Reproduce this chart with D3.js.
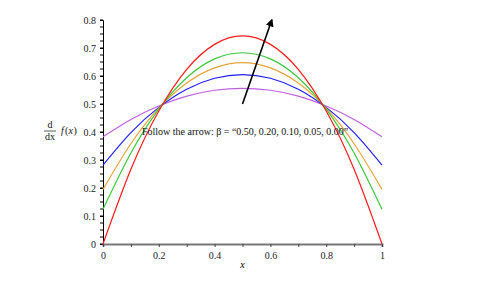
<!DOCTYPE html>
<html>
<head>
<meta charset="utf-8">
<script src="https://cdn.jsdelivr.net/npm/d3@7"></script>
<style>
  body { margin: 0; background: #fff; }
  svg { font-family: "Liberation Serif", "DejaVu Serif", serif; }
</style>
</head>
<body>
<script>
// sample points (curves are symmetric about x = 0.5)
var xs = [0, 0.1, 0.2, 0.3, 0.4, 0.5, 0.6, 0.7, 0.8, 0.9, 1];
var redY    = [0, 0.267, 0.475, 0.624, 0.713, 0.743, 0.713, 0.624, 0.475, 0.267, 0];
var greenY  = [0.124, 0.325, 0.482, 0.594, 0.661, 0.683, 0.661, 0.594, 0.482, 0.325, 0.124];
var orangeY = [0.195, 0.358, 0.485, 0.575, 0.629, 0.648, 0.629, 0.575, 0.485, 0.358, 0.195];
var blueY   = [0.282, 0.398, 0.488, 0.553, 0.592, 0.605, 0.592, 0.553, 0.488, 0.398, 0.282];
var purpleY = [0.383, 0.445, 0.493, 0.528, 0.549, 0.556, 0.549, 0.528, 0.493, 0.445, 0.383];
var curveColors = ["#c060e0", "#1e1eff", "#e6a33a", "#3cc83c", "#ff1a1a"];
var xTicks = [0, 0.1, 0.2, 0.3, 0.4, 0.5, 0.6, 0.7, 0.8, 0.9, 1];
var yTicks = [0, 0.1, 0.2, 0.3, 0.4, 0.5, 0.6, 0.7, 0.8];
var arrowFrom = [0.5, 0.5], arrowTo = [0.605, 0.8];
var note = "Follow the arrow: \u03b2 = \u201c0.50, 0.20, 0.10, 0.05, 0.00\u201d";

var W = 484, H = 281;
var svg = d3.select("body").append("svg").attr("width", W).attr("height", H);

var x = d3.scaleLinear().domain([0, 1]).range([103, 382]);
var y = d3.scaleLinear().domain([0, 0.8]).range([244, 20]);

// minor y ticks
var yMinor = d3.range(0, 0.8001, 0.025);
svg.append("g").selectAll("line").data(yMinor).enter().append("line")
  .attr("x1", x(0) - 3).attr("x2", x(0))
  .attr("y1", function(d){ return y(d); }).attr("y2", function(d){ return y(d); })
  .attr("stroke", "#000").attr("stroke-width", 1);

var yAxis = svg.append("g").attr("transform", "translate(" + x(0) + ",0)")
  .call(d3.axisLeft(y).tickValues(yTicks).tickSize(3).tickPadding(4)
    .tickFormat(function(d){ return d === 0 ? "0" : d3.format(".1f")(d); }));
yAxis.select(".domain").attr("stroke", "#000");
yAxis.selectAll("text").attr("font-size", 10).attr("fill", "#222")
  .attr("font-family", "Liberation Serif, serif");

var xAxis = svg.append("g").attr("transform", "translate(0," + y(0) + ")")
  .call(d3.axisBottom(x).tickValues(xTicks).tickSize(3).tickPadding(5)
    .tickFormat(function(d, i){ return i % 2 === 0 ? (d === 0 || d === 1 ? d3.format("d")(d) : d3.format(".1f")(d)) : ""; }));
xAxis.select(".domain").attr("stroke", "#777").attr("stroke-width", 1.8);
xAxis.selectAll(".tick line").attr("stroke", "#444");
xAxis.selectAll("text").attr("font-size", 10).attr("fill", "#222")
  .attr("font-family", "Liberation Serif, serif");

// curves
var line = d3.line()
  .x(function(d){ return x(d[0]); })
  .y(function(d){ return y(d[1]); })
  .curve(d3.curveNatural);
var series = [purpleY, blueY, orangeY, greenY, redY];
series.forEach(function(vals, i){
  svg.append("path")
    .datum(xs.map(function(v, j){ return [v, vals[j]]; }))
    .attr("d", line)
    .attr("fill", "none")
    .attr("stroke", curveColors[i])
    .attr("stroke-width", 1.2);
});

// arrow
svg.append("defs").append("marker")
  .attr("id", "head").attr("viewBox", "0 0 10 10")
  .attr("refX", 8).attr("refY", 5)
  .attr("markerWidth", 5).attr("markerHeight", 5)
  .attr("orient", "auto")
  .append("path").attr("d", "M0,0 L10,5 L0,10 z").attr("fill", "#000");
svg.append("line")
  .attr("x1", x(arrowFrom[0])).attr("y1", y(arrowFrom[1]))
  .attr("x2", x(arrowTo[0])).attr("y2", y(arrowTo[1]))
  .attr("stroke", "#000").attr("stroke-width", 1.6)
  .attr("marker-end", "url(#head)");

// annotation
svg.append("text").attr("x", 142).attr("y", 135)
  .attr("font-size", 10).attr("fill", "#111").text(note);

// axis labels
svg.append("text").attr("x", x(0.5)).attr("y", 268)
  .attr("text-anchor", "middle").attr("font-size", 10).attr("font-style", "italic")
  .text("x");
var yl = svg.append("g").attr("font-size", 10).attr("fill", "#111");
yl.append("text").attr("x", 50).attr("y", 128).attr("text-anchor", "middle").text("d");
yl.append("line").attr("x1", 44).attr("x2", 56).attr("y1", 131).attr("y2", 131)
  .attr("stroke", "#111").attr("stroke-width", 0.7);
yl.append("text").attr("x", 50).attr("y", 140).attr("text-anchor", "middle").text("dx");
yl.append("text").attr("x", 61).attr("y", 134).attr("font-style", "italic").text("f");
yl.append("text").attr("x", 65).attr("y", 134).text("(");
yl.append("text").attr("x", 68.5).attr("y", 134).attr("font-style", "italic").text("x");
yl.append("text").attr("x", 73.5).attr("y", 134).text(")");
</script>
</body>
</html>
